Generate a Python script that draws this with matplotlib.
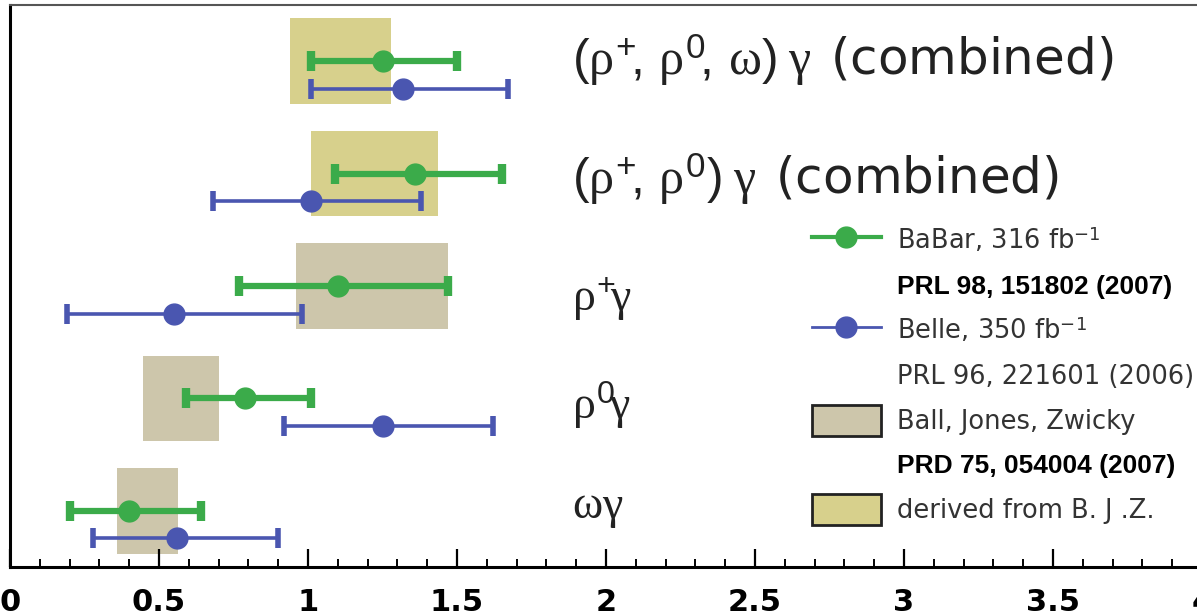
import matplotlib.pyplot as plt
from matplotlib.lines import Line2D
from matplotlib.patches import Patch
from matplotlib.ticker import MultipleLocator

plt.rcParams['font.family'] = ['DejaVu Sans']
plt.rcParams['mathtext.fontset'] = 'custom'
plt.rcParams['mathtext.rm'] = 'Liberation Sans'
plt.rcParams['mathtext.it'] = 'Liberation Serif'
plt.rcParams['mathtext.bf'] = 'Liberation Sans:bold'

# =========================
# Data (top row first)
# =========================
channels = [
    r'$(\rho^{+}\!,\,\rho^{0}\!,\,\omega)\;\gamma\ \,$(combined)',
    r'$(\rho^{+}\!,\,\rho^{0})\;\gamma\ \,$(combined)',
    r'$\rho^{+}\!\gamma$',
    r'$\rho^{0}\!\gamma$',
    r'$\omega\gamma$',
]
rows = [5, 4, 3, 2, 1]

babar_val = [1.25, 1.36, 1.10, 0.79, 0.40]
babar_lo = [0.24, 0.27, 0.33, 0.20, 0.20]
babar_hi = [0.25, 0.29, 0.37, 0.22, 0.24]

belle_val = [1.32, 1.01, 0.55, 1.25, 0.56]
belle_lo = [0.31, 0.33, 0.36, 0.33, 0.28]
belle_hi = [0.35, 0.37, 0.43, 0.37, 0.34]

theory_lo = [0.94, 1.01, 0.96, 0.445, 0.36]
theory_hi = [1.28, 1.435, 1.47, 0.70, 0.565]
theory_kind = ['derived', 'derived', 'bjz', 'bjz', 'bjz']

legend_labels = [
    r'BaBar, 316 fb$^{\mathregular{-1}}$',
    'PRL 98, 151802 (2007)',
    r'Belle, 350 fb$^{\mathregular{-1}}$',
    'PRL 96, 221601 (2006)',
    'Ball, Jones, Zwicky',
    'PRD 75, 054004 (2007)',
    'derived from B. J .Z.',
]

# =========================
# Styles
# =========================
GREEN = '#3bab4a'
BLUE = '#4a56b0'
YELLOW = '#d7d08c'
GREY = '#cdc6ab'
box_color = {'derived': YELLOW, 'bjz': GREY}
label_dy = [0.12, 0.18, 0.22, 0.18, 0.06]   # baseline shift of row labels
label_size = [36, 36, 33, 33, 33]

fig = plt.figure(figsize=(11.97, 6.15), dpi=100)
ax = fig.add_axes([10 / 1197, 48 / 615, 1192 / 1197, 562 / 615])

# theory boxes
widths = [h - l for l, h in zip(theory_lo, theory_hi)]
ax.barh(rows, widths, left=theory_lo, height=0.76,
        color=[box_color[k] for k in theory_kind], zorder=1)

# measurements
ax.errorbar(babar_val, rows, xerr=[babar_lo, babar_hi], fmt='o', color=GREEN,
            ms=15, elinewidth=4.5, capsize=7, capthick=6, zorder=3)
belle_rows = [r - 0.245 for r in rows]
ax.errorbar(belle_val, belle_rows, xerr=[belle_lo, belle_hi], fmt='o', color=BLUE,
            ms=15, elinewidth=2.6, capsize=7, capthick=4, zorder=3)

for r, name, dy, fs in zip(rows, channels, label_dy, label_size):
    ax.text(1.886, r - dy, name, fontsize=fs, color='#222222',
            va='baseline', ha='left')

# =========================
# Axes
# =========================
ax.set_xlim(0, 4)
ax.set_ylim(0.5, 5.5)
ax.set_yticks([])
ax.xaxis.set_major_locator(MultipleLocator(0.5))
ax.xaxis.set_minor_locator(MultipleLocator(0.1))
ax.xaxis.set_major_formatter(plt.FuncFormatter(lambda v, p: f'{v:g}'))
ax.tick_params(axis='x', which='major', direction='in', length=13, width=1.6,
               pad=15, labelsize=22)
ax.tick_params(axis='x', which='minor', direction='in', length=6, width=1.4)
for lab in ax.get_xticklabels():
    lab.set_fontweight('bold')
ax.spines['left'].set_linewidth(2.2)
ax.spines['bottom'].set_linewidth(2.2)
ax.spines['top'].set_linewidth(1.5)
ax.spines['top'].set_color('#555555')
ax.spines['right'].set_visible(False)

# =========================
# Legend
# =========================
blank = Line2D([], [], linestyle='none')
handles = [
    Line2D([], [], color=GREEN, lw=3, marker='o', ms=15),
    blank,
    Line2D([], [], color=BLUE, lw=2, marker='o', ms=15),
    blank,
    Patch(facecolor=GREY, edgecolor='#222222', lw=2),
    blank,
    Patch(facecolor=YELLOW, edgecolor='#222222', lw=2),
]
leg = ax.legend(handles, legend_labels, loc='upper left',
                bbox_to_anchor=(812 / 1197, 1 - 225 / 615),
                bbox_transform=fig.transFigure, frameon=False, fontsize=18.5,
                handlelength=2.68, handleheight=1.48, handletextpad=0.62,
                labelspacing=0.54, borderpad=0, borderaxespad=0)
for i, t in enumerate(leg.get_texts()):
    if i in (1, 5):
        t.set_family('Liberation Sans')
        t.set_fontweight('bold')
        t.set_fontsize(19)
        t.set_color('black')
    else:
        t.set_color('#333333')

fig.savefig('out.png', dpi=100)
